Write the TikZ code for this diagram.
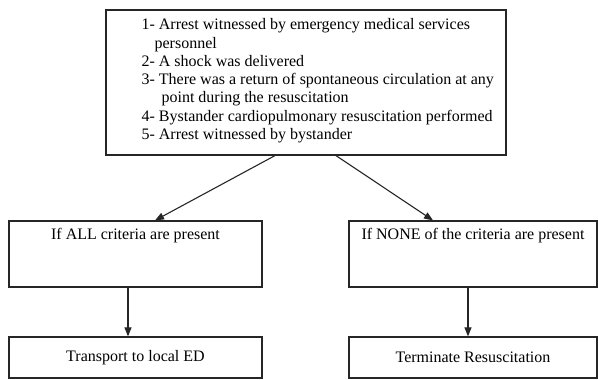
\documentclass[tikz,border=0pt]{standalone}
\usepackage{fontspec}
\setmainfont{Liberation Serif}
\usetikzlibrary{arrows.meta}

\newcommand{\boxfont}{\fontsize{16pt}{18.3pt}\selectfont}

\begin{document}
\begin{tikzpicture}[x=1pt,y=-1pt,
  box/.style={draw=black!85,line width=1.2pt,inner sep=0pt,font=\boxfont},
  arr/.style={draw=black!85,line width=1.1pt,-{Triangle[width=7pt,length=9pt]}}]
\useasboundingbox (0,0) rectangle (598,380);
\node[box,minimum width=400pt,minimum height=145pt] (crit) at (306,82.5) {};
\node[anchor=north west,align=left,inner sep=0pt,font=\boxfont] (list) at ([xshift=36pt,yshift=-9pt]crit.north west) {1- Arrest witnessed by emergency medical services\\
\hspace*{13pt}personnel\\
2- A shock was delivered\\
3- There was a return of spontaneous circulation at any\\
\hspace*{20pt}point during the resuscitation\\
4- Bystander cardiopulmonary resuscitation performed\\
5- Arrest witnessed by bystander};
\node[box,minimum width=253pt,minimum height=66pt,inner ysep=5.5pt,align=center] (all) at (135.5,254) {\strut If ALL criteria are present\\ \strut\\ \strut};
\node[box,minimum width=248pt,minimum height=66pt,inner ysep=5.5pt,align=center] (none) at (473,254) {\strut If NONE of the criteria are present\\ \strut\\ \strut};
\node[box,minimum width=253pt,minimum height=41pt] (ed) at (135.5,357.5) {Transport to local ED};
\node[box,minimum width=248pt,minimum height=41pt] (stop) at (473,357.5) {Terminate Resuscitation};
\draw[arr] ([xshift=-31pt]crit.south) -- ([xshift=19.5pt]all.north);
\draw[arr] ([xshift=30pt]crit.south) -- ([xshift=-40pt]none.north);
\draw[arr] ([xshift=-7.5pt]all.south) -- ([xshift=-7.5pt]ed.north);
\draw[arr] ([xshift=-5pt]none.south) -- ([xshift=-5pt]stop.north);
\end{tikzpicture}
\end{document}
